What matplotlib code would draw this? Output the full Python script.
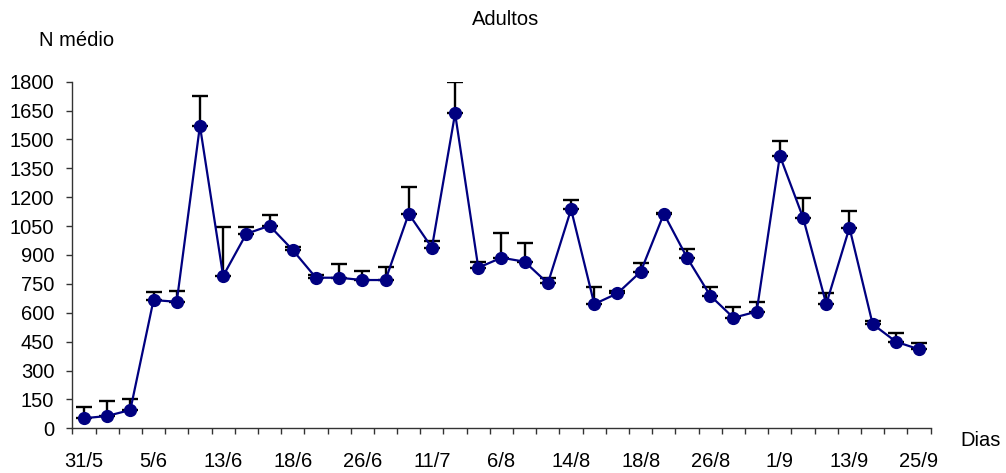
import matplotlib
matplotlib.use("Agg")
import matplotlib.pyplot as plt
import numpy as np

plt.rcParams['font.family'] = ['Liberation Sans', 'DejaVu Sans']

# Data
n_medio = [52, 64, 95, 666, 657, 1571, 791, 1010, 1052, 926, 782, 782, 770, 770,
           1114, 938, 1635, 834, 886, 865, 753, 1137, 645, 701, 813, 1114, 886,
           689, 574, 606, 1415, 1094, 645, 1042, 541, 450, 410]
erro_sup = [57, 78, 57, 40, 57, 154, 256, 37, 55, 17, 14, 69, 48, 69,
            141, 34, 161, 28, 130, 99, 26, 47, 90, 13, 47, 3, 45,
            46, 57, 48, 78, 100, 59, 88, 18, 46, 31]
tick_labels = ['31/5', '5/6', '13/6', '18/6', '26/6', '11/7', '6/8', '14/8',
               '18/8', '26/8', '1/9', '13/9', '25/9']
y_ticks = [0, 150, 300, 450, 600, 750, 900, 1050, 1200, 1350, 1500, 1650, 1800]

x = np.arange(len(n_medio))
fs = 14.5

fig = plt.figure(figsize=(10.06, 4.73), dpi=100)
ax = fig.add_axes([0.0719, 0.0945, 0.8532, 0.7328])

ax.errorbar(x, n_medio, yerr=[np.zeros(len(erro_sup)), erro_sup], fmt='none',
            ecolor='black', elinewidth=1.7, capsize=5.8, capthick=1.7, zorder=2)
ax.plot(x, n_medio, color='#000080', lw=1.6, marker='o', markersize=8.5,
        markerfacecolor='#000080', markeredgecolor='#000080', zorder=3)

ax.set_xlim(-0.5, len(n_medio) - 0.5)
ax.set_ylim(0, 1800)
ax.set_yticks(y_ticks)
ax.set_yticklabels([str(v) for v in y_ticks], fontsize=fs)

ax.set_xticks(x[::3])
ax.set_xticklabels(tick_labels, fontsize=fs)
ax.set_xticks(np.arange(-0.5, len(n_medio)), minor=True)
ax.tick_params(axis='x', which='major', length=0, pad=17)
ax.tick_params(axis='x', which='minor', length=4, width=1, color='#333333', direction='out')
ax.tick_params(axis='y', which='major', length=4, width=1, color='#333333', pad=9)

for s in ['top', 'right']:
    ax.spines[s].set_visible(False)
for s in ['left', 'bottom']:
    ax.spines[s].set_color('#333333')
    ax.spines[s].set_linewidth(1)

fig.text(0.503, 0.958, 'Adultos', ha='center', va='center', fontsize=fs)
fig.text(0.039, 0.915, 'N médio', ha='left', va='center', fontsize=fs)
fig.text(0.955, 0.068, 'Dias', ha='left', va='center', fontsize=fs)

fig.savefig('out.png', dpi=100)
